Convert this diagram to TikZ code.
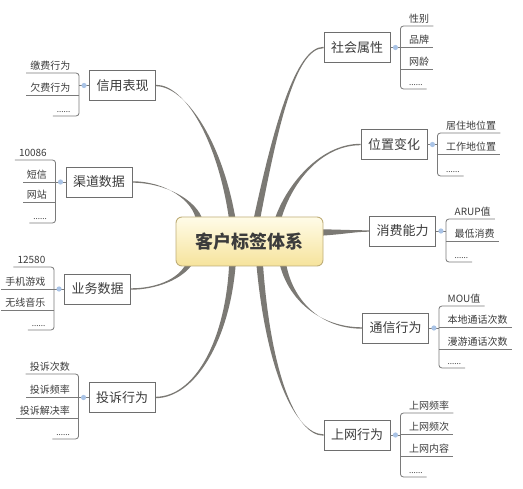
\documentclass[tikz,border=0pt]{standalone}
\usepackage{fontspec}
\setmainfont{Noto Sans CJK SC}
\usetikzlibrary{calc,backgrounds}
\definecolor{conn}{HTML}{7B7974}
\definecolor{boxline}{HTML}{6E6E6E}
\definecolor{txt}{HTML}{3C3C3C}
\definecolor{brk}{HTML}{7A7A7A}
\definecolor{dotc}{HTML}{A9C3E6}
\definecolor{ctop}{HTML}{FFFCE8}
\definecolor{cbot}{HTML}{F6E39C}
\definecolor{cline}{HTML}{BFAE78}
\tikzset{
  branch/.style={draw=boxline, line width=0.9pt, fill=white, text=txt,
    minimum width=66pt, minimum height=30pt, inner sep=0pt,
    font=\fontsize{13}{15}\selectfont},
  itemR/.style={anchor=south west, inner xsep=4pt, inner ysep=0pt,
    text height=9pt, text depth=3pt, text=txt, font=\fontsize{10}{12}\selectfont},
  itemL/.style={itemR, anchor=south east},
  dotsfont/.style={font=\fontsize{8}{10}\selectfont},
  brline/.style={draw=brk, line width=0.8pt, rounded corners=3pt},
  knob/.style={fill=dotc},
}
% right group: #1 name, #2 bracket x, #3 items text/y, #4 y of dots
\newcommand\mygroupR[4]{%
  \path (#1.east) -- ++(10,0) coordinate (#1-k);
  \foreach \t/\y [count=\i] in {#3} {\node[itemR] (#1-\i) at (#2+5,\y) {\t};}
  \node[itemR,dotsfont] (#1-z) at (#2+5,#4) {......};
  \draw[brline] (#1-1.south east) -- (#1-1.south west -| #1-k) -- (#1-z.south west -| #1-k) -- (#1-z.south east);
  \foreach \t/\y [count=\i] in {#3} {\ifnum\i>1 \draw[brline] (#1-\i.south west -| #1-k) -- (#1-\i.south east);\fi}
  \draw[brline] (#1.east) -- (#1-k);
  \fill[knob] ($(#1.east)!0.5!(#1-k)$) circle (2.6);
}
\newcommand\mygroupL[4]{%
  \path (#1.west) -- ++(-10,0) coordinate (#1-k);
  \foreach \t/\y [count=\i] in {#3} {\node[itemL] (#1-\i) at (#2-5,\y) {\t};}
  \node[itemL,dotsfont] (#1-z) at (#2-5,#4) {......};
  \draw[brline] (#1-1.south west) -- (#1-1.south east -| #1-k) -- (#1-z.south east -| #1-k) -- (#1-z.south west);
  \foreach \t/\y [count=\i] in {#3} {\ifnum\i>1 \draw[brline] (#1-\i.south east -| #1-k) -- (#1-\i.south west);\fi}
  \draw[brline] (#1.west) -- (#1-k);
  \fill[knob] ($(#1.west)!0.5!(#1-k)$) circle (2.6);
}
% tapered connector, vertical start: #1 start, #2 c1, #3 c2, #4 end
\newcommand\mytaperV[4]{%
  \fill[conn] ($(#1)+(-3.3,0)$) .. controls ($(#2)+(-2.2,0)$) and ($(#3)+(0,-0.7)$) .. ($(#4)+(0,-0.7)$)
     -- ($(#4)+(0,0.7)$) .. controls ($(#3)+(0,0.7)$) and ($(#2)+(2.2,0)$) .. ($(#1)+(3.3,0)$) -- cycle;}
\newcommand\mytaperH[4]{%
  \fill[conn] ($(#1)+(0,-3.3)$) .. controls ($(#2)+(0,-2.2)$) and ($(#3)+(0,-0.7)$) .. ($(#4)+(0,-0.7)$)
     -- ($(#4)+(0,0.7)$) .. controls ($(#3)+(0,0.7)$) and ($(#2)+(0,2.2)$) .. ($(#1)+(0,3.3)$) -- cycle;}
\begin{document}
\begin{tikzpicture}[x=1pt,y=-1pt]
\useasboundingbox (0,0) rectangle (523,489);
% centre
\node[draw=cline, line width=0.9pt, rounded corners=6pt, top color=ctop, bottom color=cbot,
  minimum width=147pt, minimum height=49pt, inner sep=0pt, text=txt,
  font=\fontsize{18}{22}\selectfont\bfseries] (C) at (249.5,241.5) {客户标签体系};
% branches
\node[branch] (soc) at (357,47.5) {社会属性};
\node[branch] (loc) at (394,144.5) {位置变化};
\node[branch] (con) at (402.5,231) {消费能力};
\node[branch] (com) at (395.5,328) {通信行为};
\node[branch] (net) at (357,435) {上网行为};
\node[branch] (cre) at (122.5,85.5) {信用表现};
\node[branch] (cha) at (99,182) {渠道数据};
\node[branch] (bus) at (97.5,289) {业务数据};
\node[branch] (cmp) at (122,397.5) {投诉行为};
% sub items
\mygroupR{soc}{400}{性别/26,品牌/47,网龄/69}{89}
\mygroupR{loc}{437}{居住地位置/133,工作地位置/154}{176}
\mygroupR{con}{445.5}{ARUP值/219,最低消费/241}{262}
\mygroupR{com}{438.5}{MOU值/306,本地通话次数/327,漫游通话次数/349}{368}
\mygroupR{net}{400}{上网频率/413,上网频次/434,上网内容/456}{477}
\mygroupL{cre}{79.5}{缴费行为/73,欠费行为/95}{116}
\mygroupL{cha}{56}{10086/160,短信/182,网站/202}{223}
\mygroupL{bus}{54.5}{12580/267,手机游戏/289,无线音乐/310}{330}
\mygroupL{cmp}{79}{投诉次数/374,投诉频率/397,投诉解决率/418}{439}
% connectors
\coordinate (s1) at ($(C.north west)+(81,4)$);
\coordinate (s2) at ($(C.north west)+(102,4)$);
\coordinate (s6) at ($(C.north west)+(57,4)$);
\coordinate (s7) at ($(C.north west)+(24,4)$);
\coordinate (s4) at ($(C.south west)+(107,-4)$);
\coordinate (s5) at ($(C.south west)+(84,-4)$);
\coordinate (s9) at ($(C.south west)+(57,-4)$);
\coordinate (s8) at ($(C.south west)+(14,-3)$);
\coordinate (s3) at ($(C.east)+(-4,-9)$);
\begin{scope}[on background layer]
\fill[white] (0,0) rectangle (523,489);
\mytaperV{s1}{275,130}{295,47.5}{soc.west}
\mytaperV{s2}{288,185}{320,144.5}{loc.west}
\mytaperH{s3}{345,232}{355,231}{con.west}
\mytaperV{s4}{290,300}{320,328}{com.west}
\mytaperV{s5}{268,370}{295,435}{net.west}
\mytaperV{s6}{220,140}{185,85.5}{cre.east}
\mytaperV{s7}{195,200}{165,182}{cha.east}
\mytaperV{s8}{180,280}{155,289}{bus.east}
\mytaperV{s9}{228,340}{195,397.5}{cmp.east}
\end{scope}
\end{tikzpicture}
\end{document}
